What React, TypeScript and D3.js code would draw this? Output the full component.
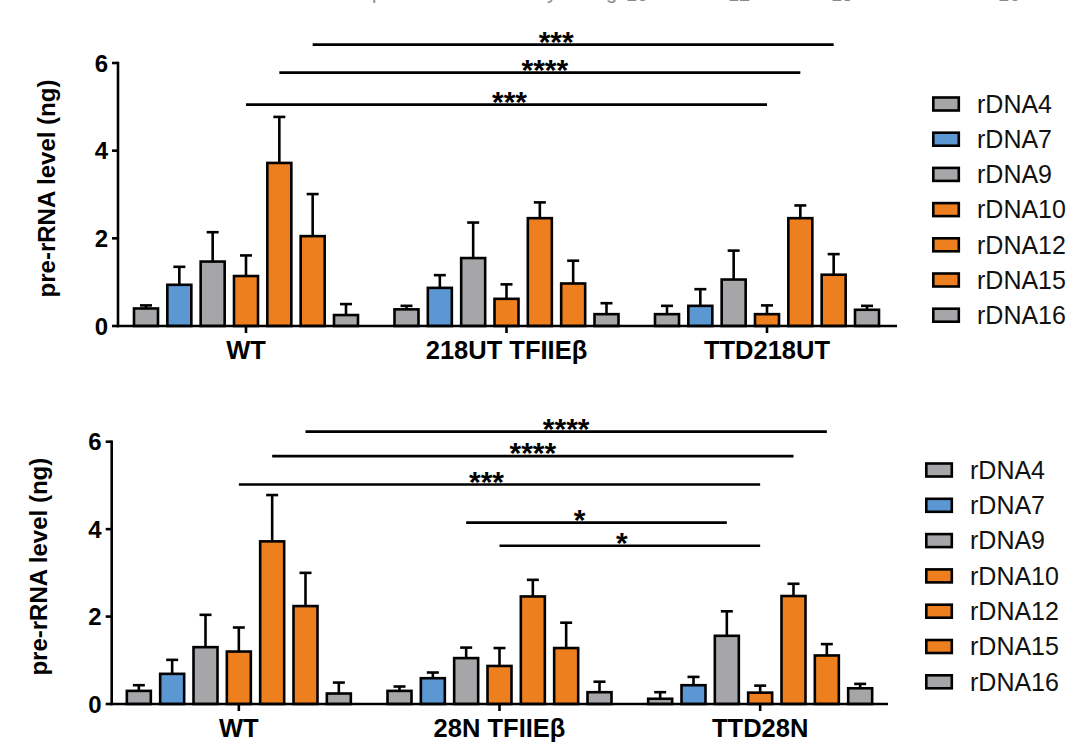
import React from "react";
import * as d3 from "d3";

const series = ["rDNA4", "rDNA7", "rDNA9", "rDNA10", "rDNA12", "rDNA15", "rDNA16"];
const seriesColors = ["#a6a6a9", "#5b97d2", "#a6a6a9", "#ee7f1f", "#ee7f1f", "#ee7f1f", "#a6a6a9"];

const groupsTop = ["WT", "218UT TFIIEβ", "TTD218UT"];
const groupsBottom = ["WT", "28N TFIIEβ", "TTD28N"];
const yTicks = [0, 2, 4, 6];

// Top panel means and upper error magnitudes
const topWT = [0.4, 0.94, 1.47, 1.14, 3.72, 2.05, 0.25];
const topWTErr = [0.07, 0.41, 0.67, 0.47, 1.05, 0.96, 0.25];
const top218UT = [0.38, 0.87, 1.55, 0.62, 2.46, 0.97, 0.27];
const top218UTErr = [0.08, 0.29, 0.81, 0.33, 0.36, 0.52, 0.25];
const topTTD218UT = [0.27, 0.46, 1.06, 0.27, 2.46, 1.17, 0.37];
const topTTD218UTErr = [0.19, 0.38, 0.66, 0.2, 0.29, 0.47, 0.09];

// Bottom panel
const botWT = [0.3, 0.69, 1.3, 1.2, 3.72, 2.24, 0.24];
const botWTErr = [0.13, 0.32, 0.74, 0.55, 1.06, 0.76, 0.25];
const bot28N = [0.3, 0.59, 1.05, 0.87, 2.46, 1.28, 0.27];
const bot28NErr = [0.1, 0.13, 0.24, 0.41, 0.38, 0.58, 0.24];
const botTTD28N = [0.12, 0.43, 1.56, 0.26, 2.47, 1.11, 0.36];
const botTTD28NErr = [0.15, 0.19, 0.56, 0.16, 0.28, 0.26, 0.1];

// Significance brackets: [groupIndex, series] to [groupIndex, series], level in data units
const sigTop = [
  { from: [0, "rDNA15"], to: [2, "rDNA15"], level: 6.42, label: "***" },
  { from: [0, "rDNA12"], to: [2, "rDNA12"], level: 5.78, label: "****" },
  { from: [0, "rDNA10"], to: [2, "rDNA10"], level: 5.05, label: "***" },
];
const sigBottom = [
  { from: [0, "rDNA15"], to: [2, "rDNA15"], level: 6.23, label: "****" },
  { from: [0, "rDNA12"], to: [2, "rDNA12"], level: 5.67, label: "****" },
  { from: [0, "rDNA10"], to: [2, "rDNA10"], level: 5.02, label: "***" },
  { from: [1, "rDNA9"], to: [2, "rDNA9"], level: 4.15, label: "*" },
  { from: [1, "rDNA10"], to: [2, "rDNA10"], level: 3.62, label: "*" },
];
// layout-only label shifts (px)
const sigTopLabelShift = [-17, 5, 3];
const sigBottomLabelShift = [0, 0, -13, -17, -8];

const FONT = "'Liberation Sans', Arial, Helvetica, sans-serif";

type PanelProps = {
  groups: string[];
  values: number[][];
  errors: number[][];
  sig: { from: (number | string)[]; to: (number | string)[]; level: number; label: string }[];
  labelShift: number[];
  axisX: number;
  y0: number;
  y6: number;
  groupRange: [number, number];
  axisEnd: number;
  ylabelX: number;
  ylabelCY: number;
  xlabelBaseline: number;
  legendX: number;
  legendY0: number;
  legendStep: number;
};

function Panel(p: PanelProps) {
  const y = d3.scaleLinear().domain([0, 6]).range([p.y0, p.y6]);
  const xg = d3.scaleBand<string>().domain(p.groups).range(p.groupRange).padding(0);
  const xs = d3.scalePoint<string>().domain(series).range([-100, 100]);
  const gc = (g: string) => (xg(g) as number) + xg.bandwidth() / 2;
  const barW = 24;
  const sw = 2.6;
  const capW = 12;

  return (
    <g>
      {p.groups.map((g, gi) =>
        series.map((s, si) => {
          const cx = gc(g) + (xs(s) as number);
          const v = p.values[gi][si];
          const e = p.errors[gi][si];
          return (
            <g key={g + s}>
              <line x1={cx} x2={cx} y1={y(v)} y2={y(v + e)} stroke="#000" strokeWidth={sw} />
              <line x1={cx - capW / 2} x2={cx + capW / 2} y1={y(v + e)} y2={y(v + e)} stroke="#000" strokeWidth={sw} />
              <rect
                x={cx - barW / 2}
                y={y(v)}
                width={barW}
                height={y(0) - y(v)}
                fill={seriesColors[si]}
                stroke="#000"
                strokeWidth={sw}
              />
            </g>
          );
        })
      )}
      <line x1={p.axisX} x2={p.axisX} y1={y(6) - 1.2} y2={y(0) + 1.2} stroke="#000" strokeWidth={2.6} />
      {yTicks.map((t) => (
        <g key={t}>
          <line x1={p.axisX - 6} x2={p.axisX} y1={y(t)} y2={y(t)} stroke="#000" strokeWidth={2.6} />
          <text
            x={p.axisX - 10}
            y={y(t) + 8.5}
            textAnchor="end"
            fontFamily={FONT}
            fontWeight="bold"
            fontSize={24}
            fill="#000"
          >
            {t}
          </text>
        </g>
      ))}
      <line x1={p.axisX - 1.3} x2={p.axisEnd} y1={y(0)} y2={y(0)} stroke="#000" strokeWidth={2.6} />
      {p.groups.map((g) => (
        <g key={"xt" + g}>
          <line x1={gc(g)} x2={gc(g)} y1={y(0)} y2={y(0) + 7} stroke="#000" strokeWidth={2.6} />
          <text
            x={gc(g)}
            y={p.xlabelBaseline}
            textAnchor="middle"
            fontFamily={FONT}
            fontWeight="bold"
            fontSize={25.5}
            fill="#000"
          >
            {g}
          </text>
        </g>
      ))}
      <text
        transform={`translate(${p.ylabelX},${p.ylabelCY}) rotate(-90)`}
        textAnchor="middle"
        fontFamily={FONT}
        fontWeight="bold"
        fontSize={24}
        fill="#000"
      >
        pre-rRNA level (ng)
      </text>
      {p.sig.map((s, i) => {
        const x1 = gc(p.groups[s.from[0] as number]) + (xs(s.from[1] as string) as number);
        const x2 = gc(p.groups[s.to[0] as number]) + (xs(s.to[1] as string) as number);
        const ly = y(s.level);
        return (
          <g key={"sig" + i}>
            <line x1={x1} x2={x2} y1={ly} y2={ly} stroke="#000" strokeWidth={2.6} />
            <text
              x={(x1 + x2) / 2 + p.labelShift[i]}
              y={ly + 7}
              textAnchor="middle"
              fontFamily={FONT}
              fontWeight="bold"
              fontSize={30}
              fill="#000"
            >
              {s.label}
            </text>
          </g>
        );
      })}
      {series.map((s, i) => {
        const cy = p.legendY0 + i * p.legendStep;
        return (
          <g key={"lg" + s}>
            <rect x={p.legendX + 1.3} y={cy - 6.5} width={25.5} height={13} fill={seriesColors[i]} stroke="#000" strokeWidth={2.6} />
            <text x={p.legendX + 45} y={cy + 8.8} fontFamily={FONT} fontSize={25} fill="#111">
              {s}
            </text>
          </g>
        );
      })}
    </g>
  );
}

export default function App() {
  return (
    <svg
      width={1071}
      height={746}
      viewBox="0 0 1071 746"
      style={{ position: "absolute", left: 0, top: 0, background: "#fff" }}
    >
      <rect x={0} y={0} width={1071} height={746} fill="#fff" />
      <g fontFamily={FONT} fontSize={20} fill="#8a8a8a">
        <text x={372} y={-1}>p</text>
        <text x={547} y={-1}>y</text>
        <text x={606} y={-1}>g</text>
        <text x={626} y={1}>10</text>
        <text x={728} y={1}>12</text>
        <text x={831} y={1}>15</text>
        <text x={998} y={1}>16</text>
      </g>
      <Panel
        groups={groupsTop}
        values={[topWT, top218UT, topTTD218UT]}
        errors={[topWTErr, top218UTErr, topTTD218UTErr]}
        sig={sigTop}
        labelShift={sigTopLabelShift}
        axisX={118}
        y0={326}
        y6={63}
        groupRange={[115.75, 897.25]}
        axisEnd={897}
        ylabelX={55}
        ylabelCY={188.5}
        xlabelBaseline={359}
        legendX={932}
        legendY0={104}
        legendStep={35.2}
      />
      <Panel
        groups={groupsBottom}
        values={[botWT, bot28N, botTTD28N]}
        errors={[botWTErr, bot28NErr, botTTD28NErr]}
        sig={sigBottom}
        labelShift={sigBottomLabelShift}
        axisX={111.7}
        y0={704}
        y6={441.7}
        groupRange={[108.5, 890.5]}
        axisEnd={888}
        ylabelX={46.5}
        ylabelCY={566.7}
        xlabelBaseline={736.7}
        legendX={925}
        legendY0={470}
        legendStep={35.3}
      />
    </svg>
  );
}
